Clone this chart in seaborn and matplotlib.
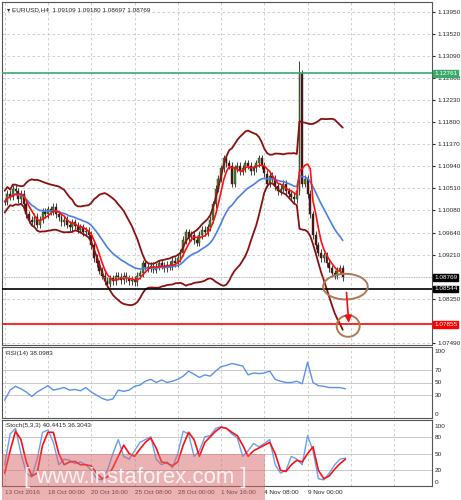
import numpy as np
import pandas as pd
import matplotlib
matplotlib.use("Agg")
import matplotlib.pyplot as plt
import seaborn as sns
from matplotlib.patches import Ellipse, Rectangle

# closes per H4 bar
closes = [1.1025, 1.1040, 1.1035, 1.1050, 1.1045, 1.1030, 1.1040, 1.1020, 1.1000, 1.0990,
          1.0985, 1.0995, 1.0980, 1.0990, 1.1005, 1.1000, 1.1010, 1.1005, 1.1015, 1.1000,
          1.0995, 1.0985, 1.0990, 1.0980, 1.0975, 1.0985, 1.0978, 1.0970, 1.0975, 1.0965,
          1.0968, 1.0960, 1.0940, 1.0915, 1.0905, 1.0890, 1.0880, 1.0870, 1.0865, 1.0875,
          1.0870, 1.0880, 1.0878, 1.0872, 1.0880, 1.0875, 1.0870, 1.0872, 1.0868, 1.0880,
          1.0885, 1.0905, 1.0898, 1.0895, 1.0900, 1.0892, 1.0898, 1.0905, 1.0900, 1.0895,
          1.0902, 1.0898, 1.0910, 1.0905, 1.0915, 1.0925, 1.0950, 1.0965, 1.0955, 1.0960,
          1.0950, 1.0945, 1.0960, 1.0970, 1.0965, 1.0975, 1.0990, 1.1020, 1.1050, 1.1070,
          1.1090, 1.1110, 1.1100, 1.1095, 1.1060, 1.1090, 1.1095, 1.1085, 1.1090, 1.1100,
          1.1095, 1.1085, 1.1090, 1.1100, 1.1110, 1.1095, 1.1080, 1.1060, 1.1075, 1.1070,
          1.1055, 1.1045, 1.1050, 1.1060, 1.1045, 1.1040, 1.1035, 1.1030, 1.1045, 1.1276,
          1.1060, 1.1070, 1.1040, 1.1000, 1.0960, 1.0940, 1.0925, 1.0915, 1.0920, 1.0905,
          1.0895, 1.0885, 1.0880, 1.0890, 1.0895, 1.0877]
spike_bar = 109
spike_high = 1.1300

# indicator values, every 2nd bar
rsi = [22, 38, 44, 40, 35, 28, 35, 40, 45, 38, 40, 42, 38, 39, 37, 42, 35, 30, 25, 22,
       24, 38, 36, 38, 44, 46, 52, 55, 50, 54, 50, 52, 55, 60, 68, 63, 58, 62, 60, 68,
       75, 77, 80, 78, 76, 62, 65, 64, 65, 68, 55, 52, 50, 50, 52, 48, 82, 50, 45, 44,
       42, 42, 42, 40]
stoch_main = [30, 85, 95, 50, 15, 8, 40, 88, 92, 70, 30, 40, 38, 32, 35, 30, 20, 5, 3, 20,
              50, 75, 45, 40, 55, 70, 75, 80, 40, 30, 35, 25, 50, 90, 85, 45, 55, 80, 82, 95,
              98, 95, 85, 78, 45, 55, 68, 62, 68, 75, 30, 15, 20, 45, 40, 30, 82, 55, 5, 3,
              15, 30, 40, 42]
stoch_sig = [15, 55, 90, 75, 35, 10, 15, 65, 88, 88, 50, 30, 35, 36, 30, 30, 28, 15, 5, 8,
             25, 45, 65, 50, 45, 58, 70, 78, 60, 35, 33, 28, 35, 65, 88, 75, 45, 70, 80, 90,
             97, 95, 88, 82, 65, 45, 55, 60, 65, 70, 50, 20, 18, 30, 38, 35, 50, 62, 20, 5,
             10, 22, 32, 40]

price_ticks = [1.13950, 1.13520, 1.13090, 1.12660, 1.12230, 1.11800, 1.11370, 1.10940,
               1.10510, 1.10080, 1.09640, 1.09210, 1.08350, 1.07490]
date_labels = ["13 Oct 2016", "18 Oct 00:00", "20 Oct 16:00", "25 Oct 08:00",
               "28 Oct 00:00", "1 Nov 16:00", "4 Nov 08:00", "9 Nov 00:00"]
level_resist = 1.12761
level_current = 1.08769
level_support = 1.08544
level_target = 1.07855

sns.set_style("white")
plt.rcParams['font.family'] = ['Liberation Sans', 'DejaVu Sans']
FS = 4.6

df = pd.DataFrame({"close": closes})
df["bar"] = np.arange(len(df))
df["open"] = df["close"].shift(1).fillna(df["close"].iloc[0])
df["high"] = df[["open", "close"]].max(axis=1) + 0.0007
df["low"] = df[["open", "close"]].min(axis=1) - 0.0007
df.loc[spike_bar, "high"] = spike_high
df["ma_fast"] = df["close"].rolling(5, min_periods=1).mean()
df["ma_slow"] = df["close"].ewm(span=20).mean()
mid = df["close"].rolling(20, min_periods=1).mean()
sd = df["close"].rolling(20, min_periods=2).std().bfill()
df["bb_up"] = mid + 2 * sd
df["bb_lo"] = mid - 2 * sd

fig = plt.figure(figsize=(4.61, 5.0), dpi=100)
W = 430 / 461
ax = fig.add_axes([2 / 461, 155 / 500, W, 343 / 500])
ax_rsi = fig.add_axes([2 / 461, 82 / 500, W, 71 / 500])
ax_st = fig.add_axes([2 / 461, 14 / 500, W, 66 / 500])

xlim = (-1, 158)
vgrid = np.arange(0, 160, 16)

# main price panel
for t in price_ticks:
    ax.axhline(t, color="#c8c8c8", ls=(0, (3, 3)), lw=0.6, zorder=0)
for v in vgrid:
    ax.axvline(v, color="#c8c8c8", ls=(0, (3, 3)), lw=0.6, zorder=0)

up = df["close"] >= df["open"]
ax.vlines(df["bar"], df["low"], df["high"], color="#222222", lw=0.6, zorder=2)
ax.bar(df["bar"][up], (df["close"] - df["open"])[up], bottom=df["open"][up],
       width=0.7, color="#3d8c1e", edgecolor="#222222", lw=0.3, zorder=3)
ax.bar(df["bar"][~up], (df["close"] - df["open"])[~up], bottom=df["open"][~up],
       width=0.7, color="#5a1010", edgecolor="#222222", lw=0.3, zorder=3)

sns.lineplot(data=df, x="bar", y="bb_up", ax=ax, color="#8b1010", lw=1.3, zorder=4)
sns.lineplot(data=df, x="bar", y="bb_lo", ax=ax, color="#8b1010", lw=1.3, zorder=4)
sns.lineplot(data=df, x="bar", y="ma_slow", ax=ax, color="#4a7fe8", lw=1.2, zorder=5)
sns.lineplot(data=df, x="bar", y="ma_fast", ax=ax, color="#ff1010", lw=1.2, zorder=6)

ax.axhline(level_resist, color="#3aaa6a", lw=1.2, zorder=7)
ax.axhline(level_current, color="#999999", ls=(0, (1, 1)), lw=0.6, zorder=7)
ax.axhline(level_support, color="#000000", lw=1.2, zorder=7)
ax.axhline(level_target, color="#ff0000", lw=1.2, zorder=7)

ax.add_patch(Ellipse((126, 1.0859), 16.5, 0.0050, fill=False, ec="#b07850", lw=1.4, zorder=8))
ax.add_patch(Ellipse((127, 1.0782), 8.5, 0.0042, fill=False, ec="#b07850", lw=1.4, zorder=8))
ax.annotate("", xy=(127.3, 1.0783), xytext=(126.3, 1.0853),
            arrowprops=dict(arrowstyle="-|>", color="#ee1010", lw=1.2), zorder=9)

ax.set_xlim(*xlim)
ax.set_ylim(1.0745, 1.1415)
ax.yaxis.tick_right()
ax.set_yticks(price_ticks)
ax.set_yticklabels([f"{t:.5f}" for t in price_ticks], fontsize=FS)
ax.tick_params(axis="y", length=2, pad=2)
ax.set_xticks([])
ax.set_xlabel("")
ax.set_ylabel("")
for y, txt, c in [(level_resist, "1.12761", "#3aaa6a"), (level_current, "1.08769", "#000000"),
                  (level_support, "1.08544", "#000000"), (level_target, "1.07855", "#ff0000")]:
    ax.text(1.005, y, txt, transform=ax.get_yaxis_transform(), fontsize=FS, color="white",
            va="center", ha="left", bbox=dict(boxstyle="square,pad=0.15", fc=c, ec=c), zorder=10)
ax.text(0.012, 0.985, "\u25be EURUSD,H4  1.09109 1.09180 1.08697 1.08769", transform=ax.transAxes,
        fontsize=FS, va="top")

# RSI panel
kx = np.arange(0, 2 * len(rsi), 2)
for lv in [70, 50, 30]:
    ax_rsi.axhline(lv, color="#c0c0c0", lw=0.6, zorder=0)
for v in vgrid:
    ax_rsi.axvline(v, color="#c8c8c8", ls=(0, (3, 3)), lw=0.6, zorder=0)
sns.lineplot(x=kx, y=rsi, ax=ax_rsi, color="#5b93ea", lw=1.0)
ax_rsi.set_xlim(*xlim)
ax_rsi.set_ylim(-6, 106)
ax_rsi.yaxis.tick_right()
ax_rsi.set_yticks([0, 30, 50, 70, 100])
ax_rsi.set_yticklabels(["0", "30", "50", "70", "100"], fontsize=FS)
ax_rsi.tick_params(axis="y", length=0, pad=2)
ax_rsi.set_xticks([])
ax_rsi.text(0.01, 0.95, "RSI(14) 38.0983", transform=ax_rsi.transAxes, fontsize=FS, va="top")

# Stochastic panel
for lv in [80, 50, 20]:
    ax_st.axhline(lv, color="#c0c0c0", lw=0.6, zorder=0)
for v in vgrid:
    ax_st.axvline(v, color="#c8c8c8", ls=(0, (3, 3)), lw=0.6, zorder=0)
sns.lineplot(x=kx, y=stoch_main, ax=ax_st, color="#6a9ff0", lw=1.0)
sns.lineplot(x=kx, y=stoch_sig, ax=ax_st, color="#ff1010", lw=1.2)
ax_st.set_xlim(*xlim)
ax_st.set_ylim(-8, 110)
ax_st.yaxis.tick_right()
ax_st.set_yticks([0, 20, 50, 80, 100])
ax_st.set_yticklabels(["0", "20", "50", "80", "100"], fontsize=FS)
ax_st.tick_params(axis="y", length=0, pad=2)
ax_st.set_xticks(vgrid[:len(date_labels)])
ax_st.set_xticklabels(date_labels, fontsize=FS, ha="left")
ax_st.tick_params(axis="x", length=2, pad=1)
ax_st.text(0.01, 0.95, "Stoch(5,3,3) 40.4415 36.3043", transform=ax_st.transAxes, fontsize=FS, va="top")

for a in (ax, ax_rsi, ax_st):
    for s in a.spines.values():
        s.set_color("#555555")
        s.set_linewidth(0.8)

# watermark
fig.patches.append(Rectangle((2 / 461, 0), 263 / 461, 46 / 500, transform=fig.transFigure,
                             fc="#d9666a", alpha=0.5, ec="none", zorder=20))
fig.text(135 / 461, 22 / 500, "[ www.instaforex.com ]", fontsize=16, color="white",
         ha="center", va="center", alpha=0.85, zorder=21)

fig.savefig("out.png", dpi=100)
